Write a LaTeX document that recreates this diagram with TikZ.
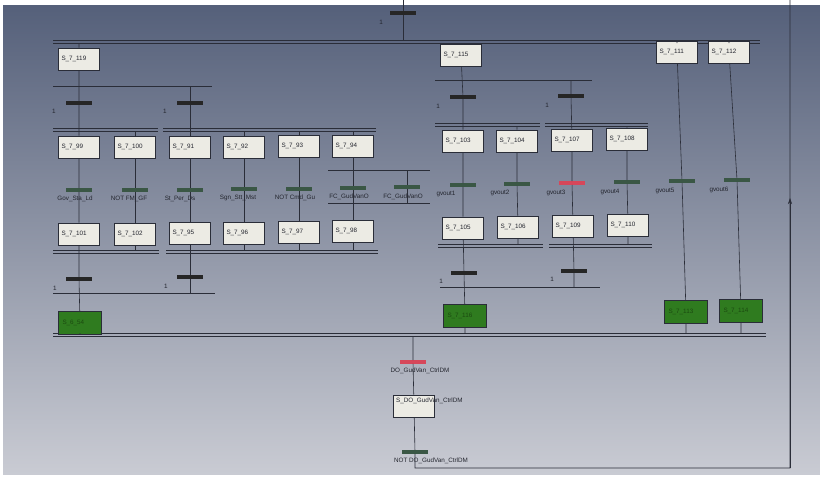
\documentclass[tikz,border=0pt]{standalone}
\usepackage{fontspec}
\setmainfont{Liberation Sans}
\usetikzlibrary{arrows.meta,positioning}
\definecolor{GrafBgTop}{HTML}{55607A}
\definecolor{GrafBgMid}{HTML}{99A0B3}
\definecolor{GrafBgBot}{HTML}{C9CBD3}
\definecolor{GrafStep}{HTML}{ECEBE4}
\definecolor{GrafAct}{HTML}{2F7B1F}
\definecolor{GrafActText}{HTML}{1B4A10}
\definecolor{GrafTrOk}{HTML}{3A5745}
\definecolor{GrafTrOn}{HTML}{D6475A}
\definecolor{GrafLine}{HTML}{2A2D38}
\definecolor{GrafText}{HTML}{23252E}

\begin{document}
\begin{tikzpicture}[x=1pt,y=-1pt,
  stepbox/.style={draw=GrafLine,line width=0.6pt,fill=GrafStep,minimum width=41pt,minimum height=22pt,text width=35pt,align=left,inner sep=2pt,text height=5pt,text depth=3pt,font=\fontsize{6.3}{7}\selectfont,text=GrafText},
  actbox/.style={stepbox,fill=GrafAct,text=GrafActText,minimum width=43pt,minimum height=23pt},
  trans/.style={fill=black!85,minimum width=26pt,minimum height=4pt,inner sep=0pt},
  transok/.style={trans,fill=GrafTrOk,minimum height=3.5pt},
  transon/.style={trans,fill=GrafTrOn,minimum height=3.5pt},
  cond/.style={font=\fontsize{6.3}{7}\selectfont,text=GrafText,inner sep=0pt},
  lien/.style={draw=GrafLine,line width=0.6pt}]
  \useasboundingbox (0,0) rectangle (820,477);
  \fill[white] (0,0) rectangle (820,477);
  \shade[top color=GrafBgTop,middle color=GrafBgMid,bottom color=GrafBgBot] (3,5) rectangle (820,474);

  % synchronisation and selection bars
  \draw[lien] (53,40) -- (760,40) (53,43) -- (760,43);
  \draw[lien] (53,86) -- (212,86);
  \draw[lien] (53,128) -- (158,128) (53,131) -- (158,131);
  \draw[lien] (163,128) -- (376,128) (163,131) -- (376,131);
  \draw[lien] (328,170) -- (430,170) (328,203) -- (430,203);
  \draw[lien] (53,250) -- (159,250) (53,253) -- (159,253);
  \draw[lien] (166,250) -- (378,250) (166,253) -- (378,253);
  \draw[lien] (53,293) -- (215,293);
  \draw[lien] (435,80) -- (592,80);
  \draw[lien] (435,123) -- (540,123) (435,126) -- (540,126);
  \draw[lien] (545,123) -- (648,123) (545,126) -- (648,126);
  \draw[lien] (438,244) -- (543,244) (438,247) -- (543,247);
  \draw[lien] (549,244) -- (652,244) (549,247) -- (652,247);
  \draw[lien] (440,287) -- (600,287);
  \draw[lien] (53,333) -- (766,333) (53,336) -- (766,336);

  % entry
  \coordinate (entree) at (403,0);
  \coordinate (entreebas) at (403,40);
  \node[trans] (t0) at (403,13) {};
  \node[cond] at (381,22) {1};
  \draw[lien] (entree) -- (t0) -- (entreebas);

  % left sequence
  \node[stepbox] (s119) at (79,59) {S\_7\_119};
  \node[trans] (t119a) at (79,103) {};
  \node[trans] (t119b) at (190,103) {};
  \node[cond] at (54,111) {1};
  \node[cond] at (165,111) {1};
  \node[stepbox] (s99) at (79,147) {S\_7\_99};
  \node[stepbox] (s100) at (135,147) {S\_7\_100};
  \node[stepbox] (s91) at (190,147) {S\_7\_91};
  \node[stepbox] (s92) at (244,147) {S\_7\_92};
  \node[stepbox] (s93) at (299,146) {S\_7\_93};
  \node[stepbox] (s94) at (353,146) {S\_7\_94};
  \node[transok] (g99) at (79,190) {};
  \node[transok] (g100) at (135,190) {};
  \node[transok] (g91) at (190,190) {};
  \node[transok] (g92) at (244,189) {};
  \node[transok] (g93) at (299,189) {};
  \node[transok] (g94) at (353,188) {};
  \node[transok] (g94b) at (407,187) {};
  \node[cond] at (75,199) {Gov\_Sta\_Ld};
  \node[cond] at (129,199) {NOT FM\_GF};
  \node[cond] at (180,199) {St\_Per\_Ds};
  \node[cond] at (238,198) {Sgn\_Stt\_Mst};
  \node[cond] at (295,198) {NOT Cmd\_Gu};
  \node[cond] at (349,197) {FC\_GudVanO};
  \node[cond] at (403,197) {FC\_GudVanO};
  \node[stepbox] (s101) at (79,234) {S\_7\_101};
  \node[stepbox] (s102) at (135,234) {S\_7\_102};
  \node[stepbox] (s95) at (190,233) {S\_7\_95};
  \node[stepbox] (s96) at (244,233) {S\_7\_96};
  \node[stepbox] (s97) at (299,232) {S\_7\_97};
  \node[stepbox] (s98) at (353,231) {S\_7\_98};
  \node[trans] (t101) at (79,279) {};
  \node[trans] (t95) at (190,277) {};
  \node[cond] at (55,288) {1};
  \node[cond] at (166,286) {1};
  \node[actbox] (s654) at (80,323) {S\_6\_54};

  \coordinate (c1h) at (79,43);
  \coordinate (c1b) at (80,333);
  \coordinate (c2h) at (135,131);
  \coordinate (c2b) at (135,250);
  \coordinate (c3h) at (190,86);
  \coordinate (c3b) at (190,293);
  \coordinate (c4h) at (244,131);
  \coordinate (c4b) at (244,250);
  \coordinate (c5h) at (299,131);
  \coordinate (c5b) at (299,250);
  \coordinate (c6h) at (353,131);
  \coordinate (c6b) at (353,250);
  \coordinate (c6bh) at (407,170);
  \coordinate (c6bb) at (407,203);
  \draw[lien] (c1h) -- (s119) -- (t119a) -- (s99) -- (g99) -- (s101) -- (t101) -- (s654) -- (c1b);
  \draw[lien] (c2h) -- (s100) -- (g100) -- (s102) -- (c2b);
  \draw[lien] (c3h) -- (t119b) -- (s91) -- (g91) -- (s95) -- (t95) -- (c3b);
  \draw[lien] (c4h) -- (s92) -- (g92) -- (s96) -- (c4b);
  \draw[lien] (c5h) -- (s93) -- (g93) -- (s97) -- (c5b);
  \draw[lien] (c6h) -- (s94) -- (g94) -- (s98) -- (c6b);
  \draw[lien] (c6bh) -- (g94b) -- (c6bb);

  % right sequence
  \node[stepbox] (s115) at (461,55) {S\_7\_115};
  \node[trans] (t115a) at (463,97) {};
  \node[trans] (t115b) at (571,96) {};
  \node[cond] at (438,106) {1};
  \node[cond] at (547,105) {1};
  \node[stepbox] (s103) at (463,141) {S\_7\_103};
  \node[stepbox] (s104) at (517,141) {S\_7\_104};
  \node[stepbox] (s107) at (572,140) {S\_7\_107};
  \node[stepbox] (s108) at (627,139) {S\_7\_108};
  \node[transok] (gv1) at (463,185) {};
  \node[transok] (gv2) at (517,184) {};
  \node[transon] (gv3) at (572,183) {};
  \node[transok] (gv4) at (627,182) {};
  \node[transok] (gv5) at (682,181) {};
  \node[transok] (gv6) at (737,180) {};
  \node[cond] at (446,194) {gvout1};
  \node[cond] at (500,193) {gvout2};
  \node[cond] at (556,193) {gvout3};
  \node[cond] at (610,192) {gvout4};
  \node[cond] at (665,191) {gvout5};
  \node[cond] at (719,190) {gvout6};
  \node[stepbox] (s105) at (463,228) {S\_7\_105};
  \node[stepbox] (s106) at (518,227) {S\_7\_106};
  \node[stepbox] (s109) at (573,226) {S\_7\_109};
  \node[stepbox] (s110) at (628,225) {S\_7\_110};
  \node[trans] (t105) at (464,273) {};
  \node[trans] (t109) at (574,271) {};
  \node[cond] at (441,281) {1};
  \node[cond] at (552,279) {1};
  \node[actbox] (s116) at (465,316) {S\_7\_116};
  \node[stepbox] (s111) at (677,52) {S\_7\_111};
  \node[stepbox] (s112) at (729,52) {S\_7\_112};
  \node[actbox] (s113) at (686,312) {S\_7\_113};
  \node[actbox] (s114) at (741,311) {S\_7\_114};

  \coordinate (c7h) at (461,43);
  \coordinate (c7b) at (465,333);
  \coordinate (c8h) at (517,126);
  \coordinate (c8b) at (518,244);
  \coordinate (c9h) at (571,80);
  \coordinate (c9b) at (574,287);
  \coordinate (c10h) at (627,126);
  \coordinate (c10b) at (628,244);
  \coordinate (c11h) at (677,43);
  \coordinate (c11b) at (686,333);
  \coordinate (c12h) at (729,43);
  \coordinate (c12b) at (741,333);
  \draw[lien] (c7h) -- (s115) -- (t115a) -- (s103) -- (gv1) -- (s105) -- (t105) -- (s116) -- (c7b);
  \draw[lien] (c8h) -- (s104) -- (gv2) -- (s106) -- (c8b);
  \draw[lien] (c9h) -- (t115b) -- (s107) -- (gv3) -- (s109) -- (t109) -- (c9b);
  \draw[lien] (c10h) -- (s108) -- (gv4) -- (s110) -- (c10b);
  \draw[lien] (c11h) -- (s111) -- (gv5) -- (s113) -- (c11b);
  \draw[lien] (c12h) -- (s112) -- (gv6) -- (s114) -- (c12b);

  % output step and return loop
  \node[transon] (tdo) at (413,362) {};
  \node[cond] at (420,371) {DO\_GudVan\_CtrlDM};
  \node[stepbox,text width=0pt] (sdo) at (414,406) {};
  \node[cond,anchor=west] at (396,401) {S\_DO\_GudVan\_CtrlDM};
  \node[transok] (tndo) at (415,452) {};
  \node[cond] at (431,461) {NOT DO\_GudVan\_CtrlDM};
  \coordinate (jonc) at (413,336);
  \coordinate (retbas) at (415,468);
  \coordinate (retcoin) at (790,468);
  \coordinate (retfleche) at (790,198);
  \coordinate (rethaut) at (790,0);
  \draw[lien] (jonc) -- (tdo) -- (sdo) -- (tndo) -- (retbas) -- (retcoin) -- (rethaut);
  \draw[lien,-{Stealth[length=6pt,width=4pt]}] (retcoin) -- (retfleche);
\end{tikzpicture}
\end{document}
